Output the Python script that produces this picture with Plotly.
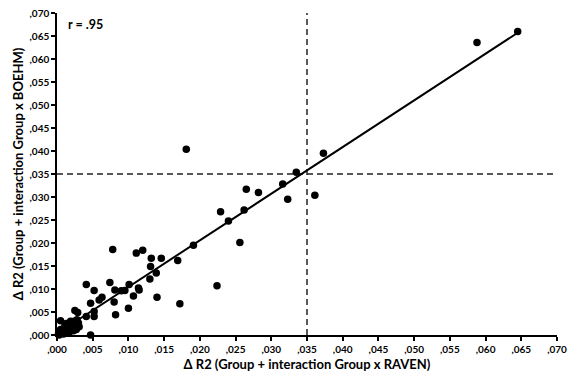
import plotly.graph_objects as go

# data points (RAVEN x, BOEHM y)
raven = [0.0645, 0.0588, 0.0181, 0.0373, 0.0335, 0.0361, 0.0316, 0.0323, 0.0265, 0.0282,
         0.0229, 0.0262, 0.0240, 0.0256, 0.0191, 0.0224, 0.0169, 0.0172, 0.0078, 0.0111,
         0.0120, 0.0132, 0.0146, 0.0131, 0.0139, 0.0130, 0.0140, 0.0074, 0.0052, 0.0081,
         0.0090, 0.0095, 0.0101, 0.0114, 0.0115, 0.0107, 0.0047, 0.0063, 0.0059, 0.0080,
         0.0100, 0.0041, 0.0041, 0.0052, 0.0052, 0.0082, 0.0047, 0.0005, 0.0025, 0.0029,
         0.0002, 0.0004, 0.0006, 0.0008, 0.0010, 0.0012, 0.0014, 0.0016, 0.0018, 0.0020,
         0.0022, 0.0024, 0.0026, 0.0028, 0.0030, 0.0031, 0.0005, 0.0009, 0.0013, 0.0019,
         0.0027, 0.0003, 0.0011, 0.0017, 0.0023]
boehm = [0.0660, 0.0636, 0.0404, 0.0395, 0.0354, 0.0304, 0.0328, 0.0295, 0.0317, 0.0310,
         0.0268, 0.0272, 0.0248, 0.0201, 0.0195, 0.0107, 0.0162, 0.0068, 0.0186, 0.0178,
         0.0184, 0.0167, 0.0167, 0.0149, 0.0135, 0.0122, 0.0082, 0.0114, 0.0097, 0.0098,
         0.0096, 0.0097, 0.0110, 0.0102, 0.0098, 0.0085, 0.0069, 0.0082, 0.0076, 0.0072,
         0.0058, 0.0110, 0.0040, 0.0051, 0.0040, 0.0044, 0.0000, 0.0031, 0.0053, 0.0049,
         0.0002, 0.0006, 0.0003, 0.0010, 0.0005, 0.0015, 0.0008, 0.0020, 0.0012, 0.0024,
         0.0016, 0.0030, 0.0020, 0.0033, 0.0026, 0.0018, 0.0012, 0.0002, 0.0025, 0.0030,
         0.0012, 0.0000, 0.0020, 0.0006, 0.0009]

# regression line endpoints
fit_x = [0.0003, 0.0645]
fit_y = [0.0006, 0.0657]

# reference lines
ref_value = 0.035
axis_max = 0.070

tick_vals = [0.000, 0.005, 0.010, 0.015, 0.020, 0.025, 0.030, 0.035,
             0.040, 0.045, 0.050, 0.055, 0.060, 0.065, 0.070]
tick_text = [",000", ",005", ",010", ",015", ",020", ",025", ",030", ",035",
             ",040", ",045", ",050", ",055", ",060", ",065", ",070"]

x_title = "Δ R2 (Group + interaction Group x RAVEN)"
y_title = "Δ R2 (Group + interaction Group x BOEHM)"
r_label = "r = .95"

font_family = "Lato, Open Sans, sans-serif"

fig = go.Figure()

# dashed reference lines
fig.add_trace(go.Scatter(x=[ref_value, ref_value], y=[0, axis_max], mode="lines",
                         line=dict(color="#222", width=1.5, dash="6px,4px"),
                         hoverinfo="skip", showlegend=False))
fig.add_trace(go.Scatter(x=[0, axis_max], y=[ref_value, ref_value], mode="lines",
                         line=dict(color="#222", width=1.5, dash="6px,4px"),
                         hoverinfo="skip", showlegend=False))

# fit line
fig.add_trace(go.Scatter(x=fit_x, y=fit_y, mode="lines",
                         line=dict(color="black", width=2),
                         hoverinfo="skip", showlegend=False))

# points
fig.add_trace(go.Scatter(x=raven, y=boehm, mode="markers",
                         marker=dict(color="black", size=7.5),
                         showlegend=False, cliponaxis=False))

axis_common = dict(
    range=[0, axis_max * 1.00001], tickvals=tick_vals, ticktext=tick_text,
    showgrid=False, zeroline=False, showline=True, linecolor="black", linewidth=1.5,
    ticks="outside", ticklen=4, tickwidth=1.5, tickcolor="black",
    tickfont=dict(family=font_family, size=10, color="black", weight="bold"),
    automargin=False, ticklabeloverflow="allow",
)

fig.update_layout(
    width=567, height=380,
    margin=dict(l=57, r=10, t=13, b=45),
    plot_bgcolor="white", paper_bgcolor="white",
    font=dict(family=font_family, color="black"),
    xaxis=dict(**axis_common,
               title=dict(text=x_title, standoff=6,
                          font=dict(family=font_family, size=13, color="black", weight="bold"))),
    yaxis=dict(**axis_common,
               title=dict(text=y_title, standoff=3,
                          font=dict(family=font_family, size=13, color="black", weight="bold"))),
    annotations=[dict(text=r_label, x=0.0012, y=0.0674, xref="x", yref="y",
                      xanchor="left", yanchor="middle", showarrow=False,
                      font=dict(family=font_family, size=12.5, color="black", weight="bold"))],
)

# remove the page's default 8px body margin so the figure fills the window exactly
fig.write_html("out.html",
               config={"displayModeBar": False},
               post_script="document.body.style.margin='0px';document.body.style.overflow='hidden';")
